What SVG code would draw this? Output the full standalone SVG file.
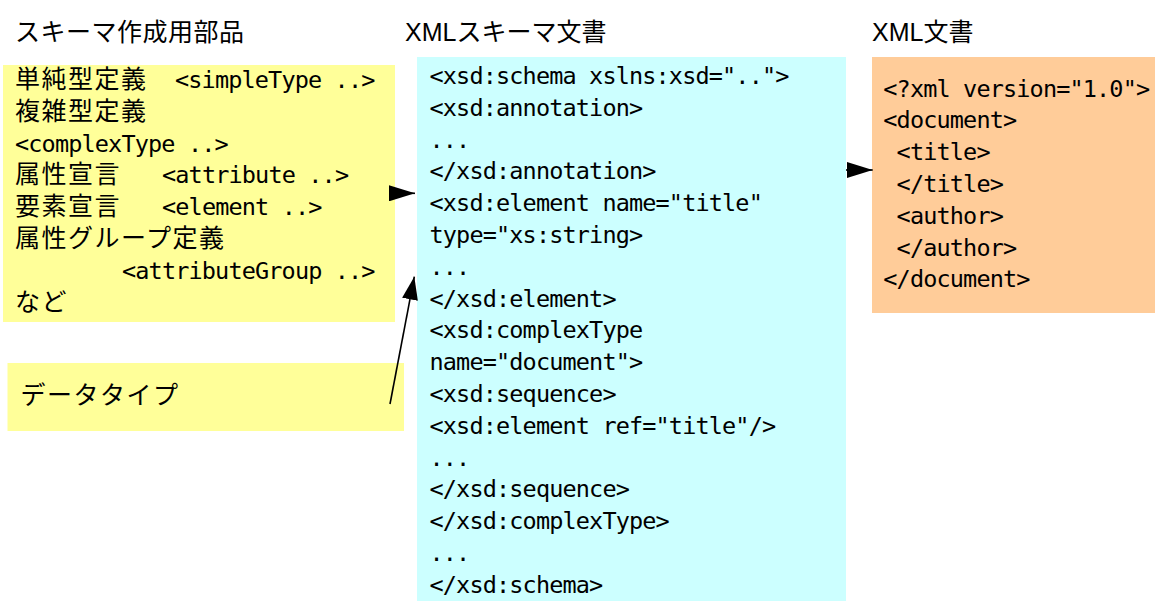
<svg xmlns="http://www.w3.org/2000/svg" width="1155" height="601" viewBox="0 0 1155 601">
  <style>
    .title { font-family: "Liberation Sans", "Noto Sans CJK JP", sans-serif; font-size: 25px; fill: #000; }
    .jp { font-family: "Noto Sans CJK JP", "Liberation Sans", sans-serif; font-size: 25px; letter-spacing: 1.5px; fill: #000; }
    .code { font-family: "DejaVu Sans Mono", "Liberation Mono", monospace; font-size: 23.5px; letter-spacing: -0.85px; fill: #000; white-space: pre; }
    .parts { fill: #FFFF99; }
    .schema { fill: #CCFFFF; }
    .instance { fill: #FFCC99; }
    .conn { stroke: #000; stroke-width: 1.6; fill: none; }
  </style>
  <defs>
    <marker id="head" viewBox="0 0 26 16" markerWidth="26" markerHeight="16" refX="26" refY="8" orient="auto" markerUnits="userSpaceOnUse">
      <path d="M0,0 L26,8 L0,16 Z" fill="#000"/>
    </marker>
    <marker id="head-small" viewBox="0 0 23 16" markerWidth="23" markerHeight="16" refX="23" refY="8" orient="auto" markerUnits="userSpaceOnUse">
      <path d="M0,0 L23,8 L0,16 Z" fill="#000"/>
    </marker>
  </defs>

  <!-- column headings -->
  <g id="headings">
    <text class="title" x="15" y="41" letter-spacing="0.5">スキーマ作成用部品</text>
    <text class="title" x="405" y="41">XMLスキーマ文書</text>
    <text class="title" x="872" y="41">XML文書</text>
  </g>

  <!-- schema building blocks -->
  <g id="parts">
    <rect class="parts" x="3" y="65" width="392" height="257"/>
    <text class="jp" x="15" y="88">単純型定義</text>
    <text class="code" x="175" y="88">&lt;simpleType ..&gt;</text>
    <text class="jp" x="15" y="119.8">複雑型定義</text>
    <text class="code" x="15" y="151.6">&lt;complexType ..&gt;</text>
    <text class="jp" x="15" y="183.4">属性宣言</text>
    <text class="code" x="162" y="183.4">&lt;attribute ..&gt;</text>
    <text class="jp" x="15" y="215.2">要素宣言</text>
    <text class="code" x="162" y="215.2">&lt;element ..&gt;</text>
    <text class="jp" x="15" y="247">属性グループ定義</text>
    <text class="code" x="122" y="278.8">&lt;attributeGroup ..&gt;</text>
    <text class="jp" x="15" y="310.6">など</text>
  </g>

  <!-- data type label -->
  <g id="datatype">
    <rect class="parts" x="7.5" y="363" width="396.5" height="68"/>
    <text class="jp" x="20.5" y="404" letter-spacing="0.8">データタイプ</text>
  </g>

  <!-- XML schema document -->
  <g id="schema">
    <rect class="schema" x="417" y="57" width="429" height="544"/>
    <text class="code" x="429.5" y="84">&lt;xsd:schema xslns:xsd=".."&gt;</text>
    <text class="code" x="429.5" y="115.8">&lt;xsd:annotation&gt;</text>
    <text class="code" x="429.5" y="147.6">...</text>
    <text class="code" x="429.5" y="179.4">&lt;/xsd:annotation&gt;</text>
    <text class="code" x="429.5" y="211.2">&lt;xsd:element name="title"</text>
    <text class="code" x="429.5" y="243">type="xs:string&gt;</text>
    <text class="code" x="429.5" y="274.8">...</text>
    <text class="code" x="429.5" y="306.6">&lt;/xsd:element&gt;</text>
    <text class="code" x="429.5" y="338.4">&lt;xsd:complexType</text>
    <text class="code" x="429.5" y="370.2">name="document"&gt;</text>
    <text class="code" x="429.5" y="402">&lt;xsd:sequence&gt;</text>
    <text class="code" x="429.5" y="433.8">&lt;xsd:element ref="title"/&gt;</text>
    <text class="code" x="429.5" y="465.6">...</text>
    <text class="code" x="429.5" y="497.4">&lt;/xsd:sequence&gt;</text>
    <text class="code" x="429.5" y="529.2">&lt;/xsd:complexType&gt;</text>
    <text class="code" x="429.5" y="561">...</text>
    <text class="code" x="429.5" y="592.8">&lt;/xsd:schema&gt;</text>
  </g>

  <!-- XML instance document -->
  <g id="instance">
    <rect class="instance" x="872" y="57" width="283" height="256"/>
    <text class="code" x="883.3" y="96.5">&lt;?xml version="1.0"&gt;</text>
    <text class="code" x="883.3" y="128.3">&lt;document&gt;</text>
    <text class="code" x="883.3" y="160.1"> &lt;title&gt;</text>
    <text class="code" x="883.3" y="191.9"> &lt;/title&gt;</text>
    <text class="code" x="883.3" y="223.7"> &lt;author&gt;</text>
    <text class="code" x="883.3" y="255.5"> &lt;/author&gt;</text>
    <text class="code" x="883.3" y="287.3">&lt;/document&gt;</text>
  </g>

  <!-- connectors -->
  <g id="connectors">
    <line class="conn" x1="389" y1="193.3" x2="415" y2="193.3" marker-end="url(#head)"/>
    <line class="conn" x1="390" y1="404" x2="414.3" y2="276.7" marker-end="url(#head-small)"/>
    <line class="conn" x1="846" y1="170" x2="872.7" y2="170" marker-end="url(#head)"/>
  </g>
</svg>
